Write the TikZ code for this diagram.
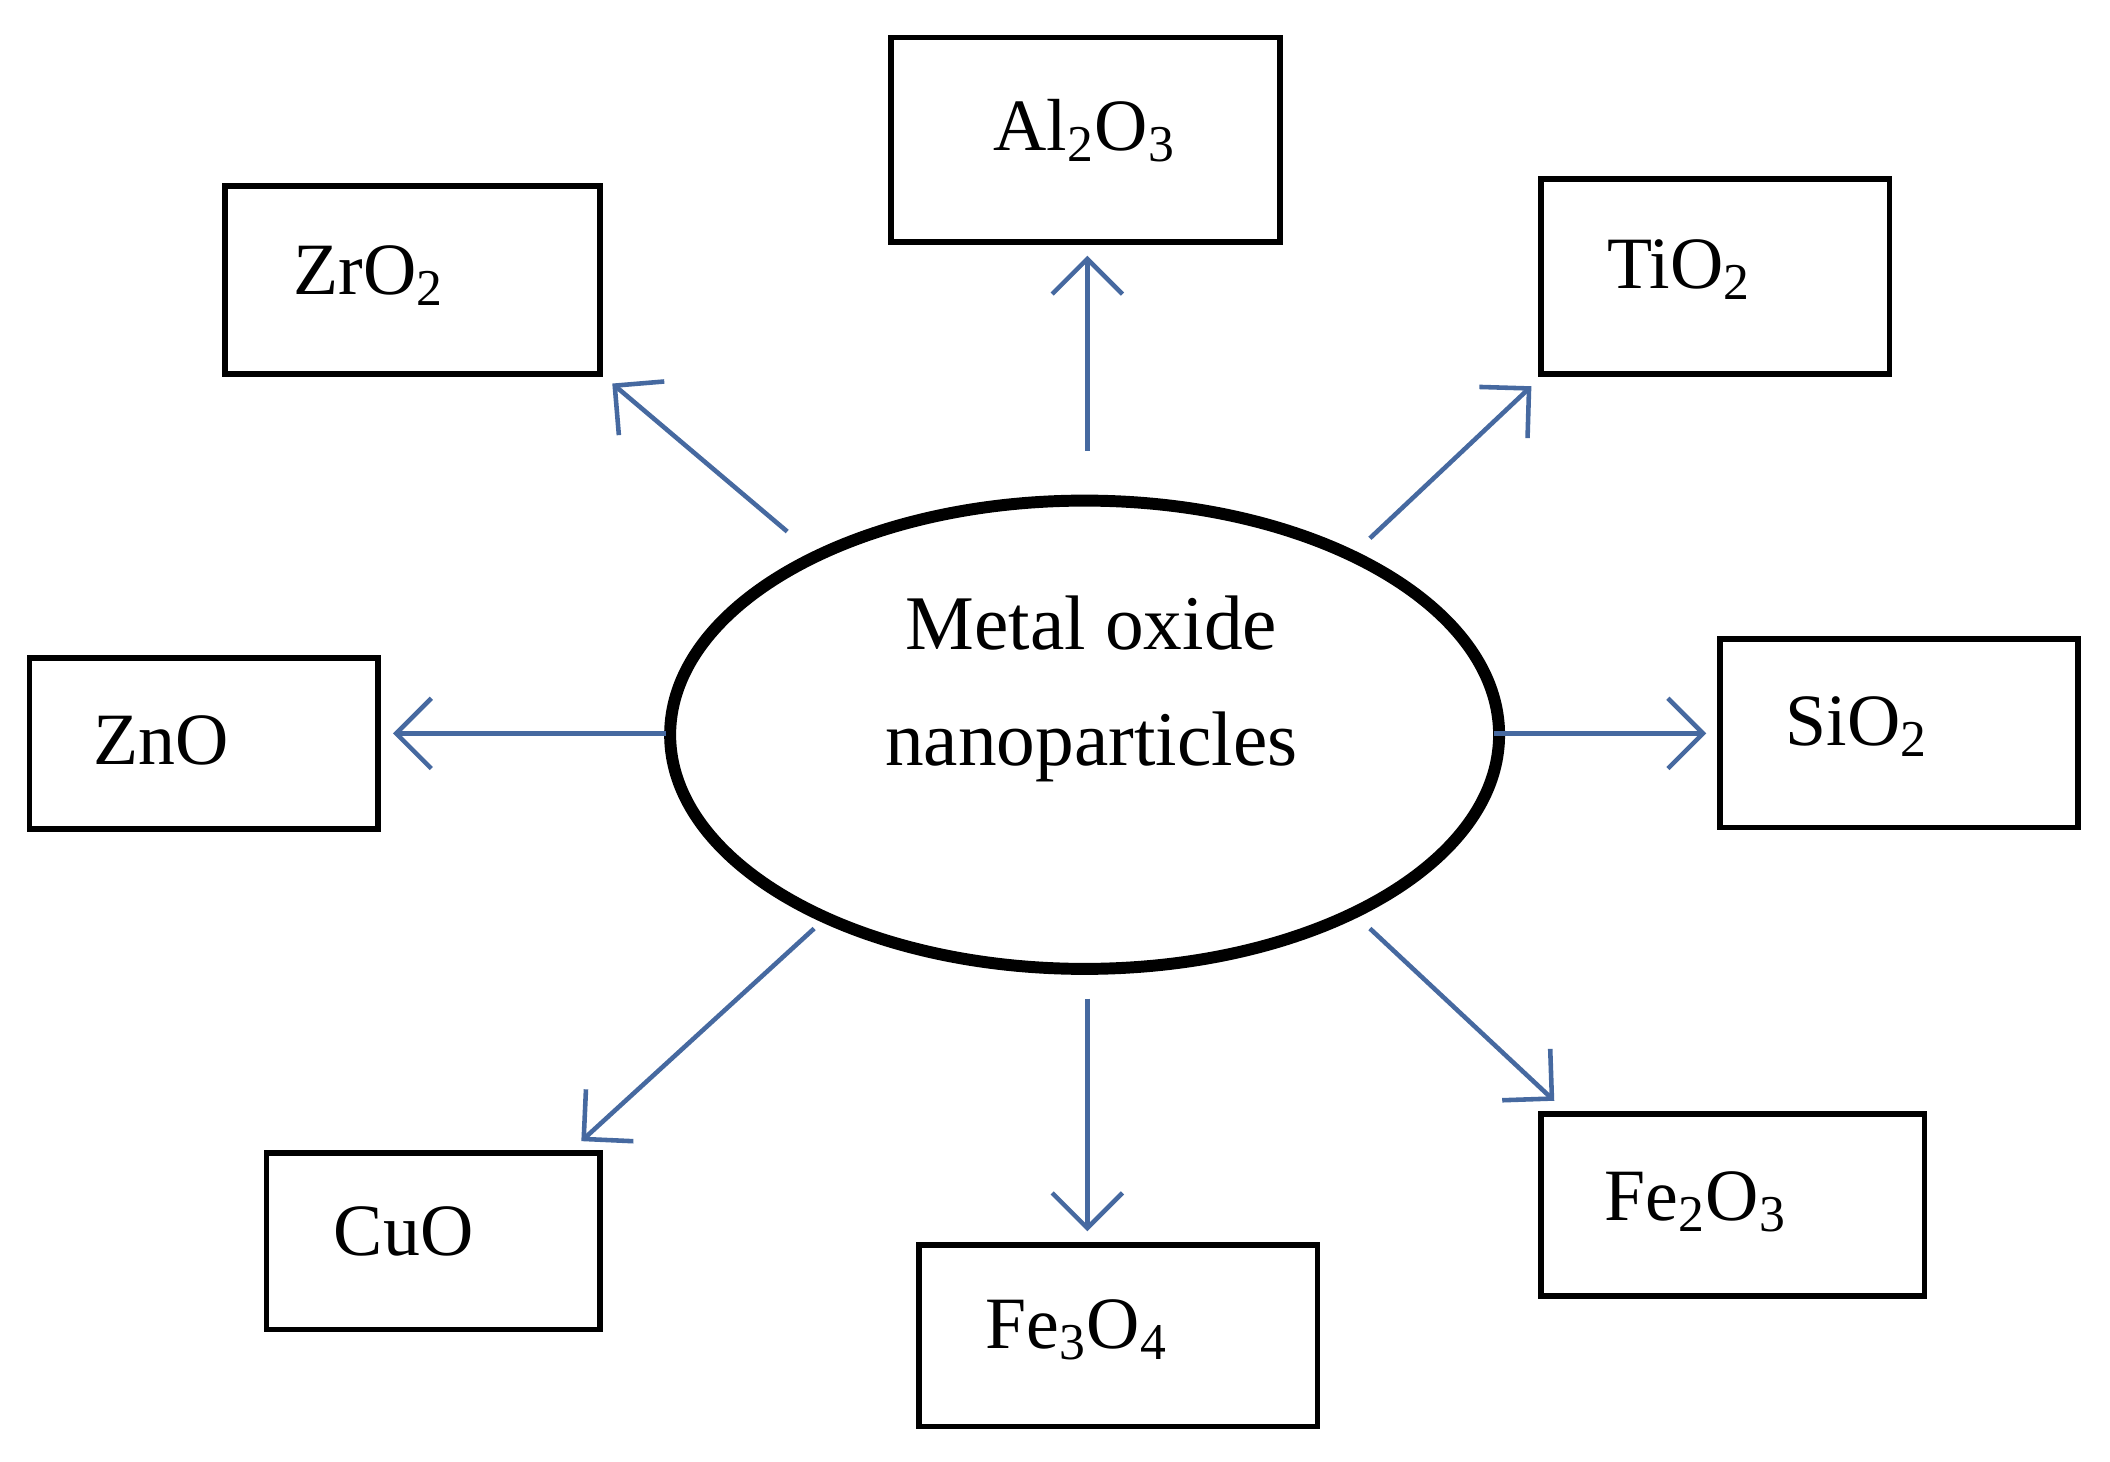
\documentclass[tikz,border=0pt]{standalone}
\usepackage{fontspec}
\setmainfont{Liberation Serif}
\usetikzlibrary{arrows.meta}
\begin{document}
\begin{tikzpicture}[x=0.013457cm,y=-0.013457cm,
  box/.style={draw,line width=1.6pt,rectangle,inner sep=0pt},
  lbl/.style={inner sep=0pt,font=\fontsize{21}{26}\selectfont},
  arr/.style={color={rgb,255:red,70;green,105;blue,160},line width=1.3pt,-{Straight Barb[length=10pt,width=20pt,line width=1.3pt]}}]
\useasboundingbox (0,0) rectangle (1568,1086.4);
\fill[white] (0,0) rectangle (1568,1086.4);
\newcommand\bx[8]{\node[box,minimum width={(#4-#2)*0.013457cm},minimum height={(#5-#3)*0.013457cm}] (#1) at ({(#2+#4)/2},{(#3+#5)/2}) {};
  \node[lbl] (#1t) at (#6,#7) {#8};}
\bx{al}{662}{28}{951}{180}{806}{97}{Al\textsubscript{2}O\textsubscript{3}}
\bx{zr}{167}{138}{446}{278}{274}{205}{ZrO\textsubscript{2}}
\bx{ti}{1145}{133}{1404}{278}{1248}{200}{TiO\textsubscript{2}}
\bx{zn}{22}{489}{281}{616}{120}{550}{ZnO}
\bx{si}{1278}{475}{1544}{615}{1380}{540}{SiO\textsubscript{2}}
\bx{cu}{198}{857}{446}{988}{300}{915}{CuO}
\bx{fe3}{683}{925}{979}{1060}{800}{988}{Fe\textsubscript{3}O\textsubscript{4}}
\bx{fe2}{1145}{828}{1430}{963}{1260}{893}{Fe\textsubscript{2}O\textsubscript{3}}
\draw[line width=3.4pt] (806,546) ellipse [x radius=308, y radius=174];
\node[align=center,font=\fontsize{22}{33}\selectfont] (c) at (811,512) {Metal oxide\\nanoparticles};
\coordinate (s1) at (808,335); \coordinate (e1) at (808,190);
\coordinate (s2) at (585,395); \coordinate (e2) at (455,285);
\coordinate (s3) at (1018,400); \coordinate (e3) at (1138,287);
\coordinate (s4) at (495,545); \coordinate (e4) at (292,545);
\coordinate (s5) at (1110,545); \coordinate (e5) at (1268,545);
\coordinate (s6) at (605,690); \coordinate (e6) at (432,848);
\coordinate (s7) at (808,742); \coordinate (e7) at (808,915);
\coordinate (s8) at (1018,690); \coordinate (e8) at (1155,818);
\foreach \i in {1,...,8}{\draw[arr] (s\i) -- (e\i);}
\end{tikzpicture}
\end{document}
